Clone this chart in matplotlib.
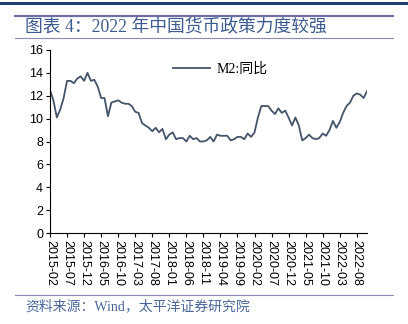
import matplotlib
matplotlib.use('Agg')
import matplotlib.pyplot as plt
from matplotlib.lines import Line2D
from matplotlib.patches import Rectangle
import pandas as pd

# M2 同比, 2015-02 .. 2022-11
months = pd.date_range('2015-02-01', '2022-11-01', freq='MS').strftime('%Y-%m').tolist()
m2_yoy = [12.5, 11.6, 10.1, 10.8, 11.8, 13.3, 13.3, 13.1, 13.5, 13.7, 13.3,
          14.0, 13.3, 13.4, 12.8, 11.8, 11.8, 10.2, 11.4, 11.5, 11.6, 11.4, 11.3,
          11.3, 11.1, 10.6, 10.5, 9.6, 9.4, 9.2, 8.9, 9.2, 8.8, 9.1, 8.2,
          8.6, 8.8, 8.2, 8.3, 8.3, 8.0, 8.5, 8.2, 8.3, 8.0, 8.0, 8.1,
          8.4, 8.0, 8.6, 8.5, 8.5, 8.5, 8.1, 8.2, 8.4, 8.4, 8.2, 8.7,
          8.4, 8.8, 10.1, 11.1, 11.1, 11.1, 10.7, 10.4, 10.9, 10.5, 10.7, 10.1,
          9.4, 10.1, 9.4, 8.1, 8.3, 8.6, 8.3, 8.2, 8.3, 8.7, 8.5, 9.0,
          9.8, 9.2, 9.7, 10.5, 11.1, 11.4, 12.0, 12.2, 12.1, 11.8, 12.4]
series_name = 'M2:同比'
title = '图表 4：2022 年中国货币政策力度较强'
source = '资料来源：Wind，太平洋证券研究院'
yticks = list(range(0, 17, 2))

fig = plt.figure(figsize=(4.08, 3.24), dpi=100)
ax = fig.add_axes([50 / 408, 1 - 233 / 324, 317 / 408, 183 / 324])

x = list(range(len(m2_yoy)))
ax.plot(x, m2_yoy, color='#44546a', lw=1.3, label=series_name)

ax.set_xlim(0, len(m2_yoy) - 1)
ax.set_ylim(0, 16)
ax.set_yticks(yticks)
ax.set_xticks(x[::5])
ax.set_xticklabels(months[::5], rotation=270, family='Liberation Sans', fontsize=9)
for t in ax.get_yticklabels():
    t.set_family('Liberation Sans')
    t.set_fontsize(9)
ax.tick_params(direction='out', length=3, width=0.8, pad=2)
for s in ['top', 'right']:
    ax.spines[s].set_visible(False)
for s in ['left', 'bottom']:
    ax.spines[s].set_linewidth(0.8)

leg = ax.legend(loc='upper left', bbox_to_anchor=(0.35, 1.0), frameon=False,
                handlelength=2.6, handletextpad=0.5,
                prop={'family': ['Liberation Serif', 'Noto Sans CJK SC'], 'size': 10})

# header / footer decorations
fig.add_artist(Rectangle((0, 1 - 5 / 324), 1, 3 / 324, transform=fig.transFigure,
                         color='#1f3e6e', lw=0))
fig.add_artist(Line2D([15 / 408, 393 / 408], [1 - 16 / 324] * 2, color='#6e6fa6', lw=1.6))
fig.add_artist(Line2D([15 / 408, 393 / 408], [1 - 38 / 324] * 2, color='#8c8ab2', lw=0.8))
fig.add_artist(Line2D([15 / 408, 393 / 408], [1 - 295 / 324] * 2, color='#8c8ab2', lw=0.8))

fig.text(25 / 408, 1 - 28 / 324, title, color='#3d5b8e', fontsize=12.8, va='center',
         family=['Liberation Serif', 'Noto Sans CJK SC'])
fig.text(25 / 408, 1 - 306 / 324, source, color='#4a679a', fontsize=10, va='center',
         family=['Liberation Serif', 'Noto Sans CJK SC'])

fig.savefig('out.png', dpi=100)
